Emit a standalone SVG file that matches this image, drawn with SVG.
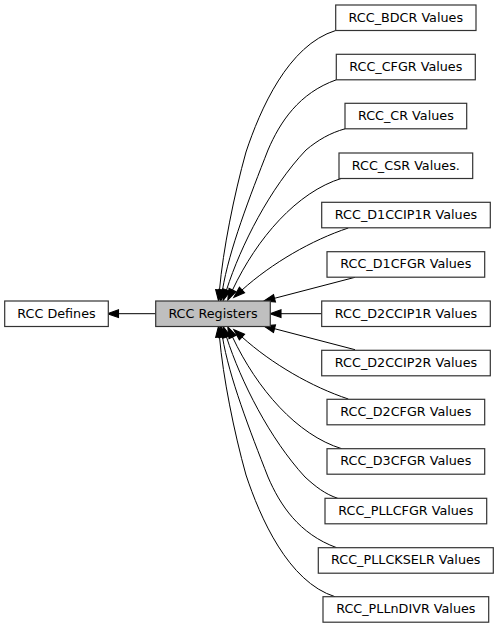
<svg xmlns="http://www.w3.org/2000/svg" width="499" height="628" viewBox="0 0 499 628">
<style>
.box{fill:#ffffff;stroke:#333333;stroke-width:1.2}
.cur{fill:#bfbfbf;stroke:#333333;stroke-width:1.2}
.lbl{font-family:"DejaVu Sans","Liberation Sans",sans-serif;font-size:12.75px;fill:#000;text-anchor:middle}
.edge{fill:none;stroke:#000;stroke-width:1;marker-end:url(#ah)}
</style>
<defs>
<marker id="ah" markerUnits="userSpaceOnUse" viewBox="0 0 10 7" markerWidth="11" markerHeight="8" refX="0" refY="3.5" orient="auto" overflow="visible">
<path d="M0,0 L10,3.5 L0,7 z" fill="#000" stroke="#000" stroke-width="1"/>
</marker>
</defs>
<rect width="499" height="628" fill="#ffffff"/>
<g id="connectors">
<path class="edge" d="M155.7,313.7 L118.5,313.7"/>
<path class="edge" d="M335.7,30.5 C288,45 260,110 246,152 C234,195 223,250 219.5,290"/>
<path class="edge" d="M336.3,79.8 C299,93 280,122 268,150 C250,196 229,250 222.5,290"/>
<path class="edge" d="M345,128.8 C330,133 318,140 306,150 C270,188 241,245 226.5,290"/>
<path class="edge" d="M341.7,178.3 C297,192 257,238 232.5,290"/>
<path class="edge" d="M348.3,228 C312,240 272,263 242,290"/>
<path class="edge" d="M355,277.3 L274.5,298.3"/>
<path class="edge" d="M321.7,313.7 L281,313.7"/>
<path class="edge" d="M355,349.7 L274.5,328.7"/>
<path class="edge" d="M348.3,399 C312,387 272,364 242,337"/>
<path class="edge" d="M341.7,448.7 C297,435 257,389 232.5,337"/>
<path class="edge" d="M337.7,498.3 C325,494 316,487 305,477 C270,439 241,382 226.5,337"/>
<path class="edge" d="M336.7,547.7 C299,534 280,505 268,477 C250,431 229,377 222.5,337"/>
<path class="edge" d="M335,596.7 C288,582 260,517 246,475 C234,432 223,377 219.5,337"/>
</g>
<g id="rcc_defines"><rect class="box" x="4.7" y="301" width="103.6" height="25.5"/><text class="lbl" x="56.5" y="317.75">RCC Defines</text></g>
<g id="rcc_registers"><rect class="cur" x="155.7" y="301" width="114.6" height="25.5"/><text class="lbl" x="213" y="317.75">RCC Registers</text></g>
<g id="rcc_bdcr"><rect class="box" x="335.7" y="5" width="140.3" height="25.5"/><text class="lbl" x="405.85" y="21.75">RCC_BDCR Values</text></g>
<g id="rcc_cfgr"><rect class="box" x="336.3" y="54.3" width="139" height="25.5"/><text class="lbl" x="405.8" y="71.05">RCC_CFGR Values</text></g>
<g id="rcc_cr"><rect class="box" x="345" y="103.3" width="121.7" height="25.5"/><text class="lbl" x="405.85" y="120.05">RCC_CR Values</text></g>
<g id="rcc_csr"><rect class="box" x="339" y="153" width="133.7" height="25.5"/><text class="lbl" x="405.85" y="169.75">RCC_CSR Values.</text></g>
<g id="rcc_d1ccip1r"><rect class="box" x="321.7" y="202.3" width="168.6" height="25.5"/><text class="lbl" x="406" y="219.05">RCC_D1CCIP1R Values</text></g>
<g id="rcc_d1cfgr"><rect class="box" x="327" y="251.7" width="157.7" height="25.5"/><text class="lbl" x="405.85" y="268.45">RCC_D1CFGR Values</text></g>
<g id="rcc_d2ccip1r"><rect class="box" x="321.7" y="301" width="168.6" height="25.5"/><text class="lbl" x="406" y="317.75">RCC_D2CCIP1R Values</text></g>
<g id="rcc_d2ccip2r"><rect class="box" x="321.7" y="350.3" width="168.6" height="25.5"/><text class="lbl" x="406" y="367.05">RCC_D2CCIP2R Values</text></g>
<g id="rcc_d2cfgr"><rect class="box" x="327" y="399.3" width="157.7" height="25.5"/><text class="lbl" x="405.85" y="416.05">RCC_D2CFGR Values</text></g>
<g id="rcc_d3cfgr"><rect class="box" x="327" y="448.7" width="157.7" height="25.5"/><text class="lbl" x="405.85" y="465.45">RCC_D3CFGR Values</text></g>
<g id="rcc_pllcfgr"><rect class="box" x="325" y="498.3" width="161.7" height="25.5"/><text class="lbl" x="405.85" y="515.05">RCC_PLLCFGR Values</text></g>
<g id="rcc_pllckselr"><rect class="box" x="318.3" y="547.7" width="175" height="25.5"/><text class="lbl" x="405.8" y="564.45">RCC_PLLCKSELR Values</text></g>
<g id="rcc_pllndivr"><rect class="box" x="323" y="596.7" width="165.7" height="25.5"/><text class="lbl" x="405.85" y="613.45">RCC_PLLnDIVR Values</text></g>
</svg>
